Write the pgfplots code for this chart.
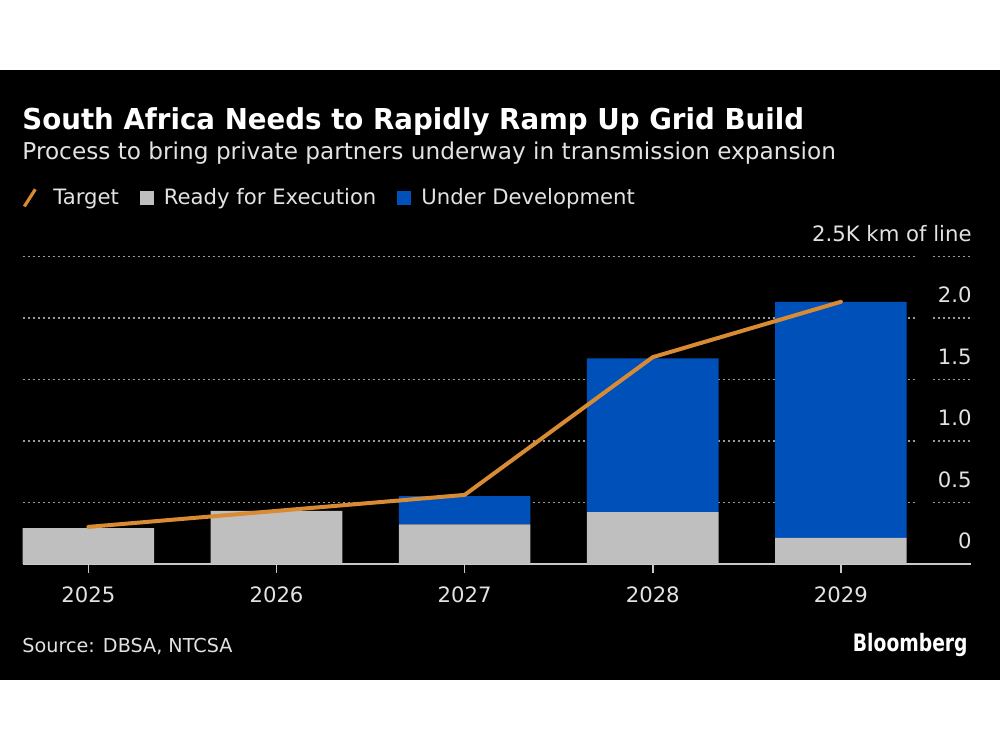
\documentclass[border=0pt]{standalone}
\usepackage{fontspec}
\setmainfont{DejaVu Sans}
\newfontfamily\titlefont{DejaVu Sans}[FakeStretch=0.96]
\newfontfamily\logofont{DejaVu Sans}[FakeStretch=0.78]
\usepackage{pgfplots}
\pgfplotsset{compat=1.18}
\definecolor{bgray}{HTML}{BFBFBF}
\definecolor{bblue}{HTML}{0050B9}
\definecolor{borange}{HTML}{D98B34}
\definecolor{gridc}{HTML}{9A9A9A}
\definecolor{txt}{HTML}{E2E2E2}
\definecolor{axc}{HTML}{C8C8C8}
\begin{document}
\begin{tikzpicture}
\begin{scope}[x=0.5pt,y=-0.5pt]
\fill[white] (0,0) rectangle (1000,750);
\fill[black] (0,69.5) rectangle (1000,680);
\node[anchor=base west, inner sep=0pt, text=white] at (22,130)
  {\titlefont\bfseries\fontsize{14.4}{16}\selectfont South Africa Needs to Rapidly Ramp Up Grid Build};
\node[anchor=base west, inner sep=0pt, text=txt] at (22,160)
  {\fontsize{11.6}{13}\selectfont Process to bring private partners underway in transmission expansion};
\node[anchor=base west, inner sep=0pt, text=txt] at (22,653)
  {\fontsize{9.6}{11}\selectfont Source: DBSA, NTCSA};
\node[anchor=base east, inner sep=0pt, text=white] at (968,652)
  {\logofont\bfseries\fontsize{12}{14}\selectfont Bloomberg};
\end{scope}

\begin{axis}[
  at={(11.35pt,-281.9pt)}, anchor=south west,
  scale only axis, width=474pt, height=153.75pt,
  xmin=-0.349, xmax=4.69, ymin=0, ymax=2.5,
  ybar stacked, bar width=0.7,
  axis y line*=left, y axis line style={draw=none},
  axis x line*=bottom,
  x axis line style={draw=axc, line width=0.9pt},
  xtick={0,1,2,3,4}, xticklabels={2025,2026,2027,2028,2029},
  tick align=outside, major tick length=4.5pt,
  xtick style={draw=axc, line width=0.8pt},
  ytick style={draw=none},
  xticklabel style={anchor=base, inner sep=0pt, yshift=-15.1pt, text=txt, font=\fontsize{10.6}{12}\selectfont},
  ymajorgrids, major grid style={draw=gridc, line width=0.75pt, dash pattern=on 1pt off 1.5pt},
  ytick={0.5,1,1.5,2,2.5},
  yticklabels={},
  legend style={at={(axis description cs:0,1.19)}, anchor=west, draw=none, fill=none,
    inner sep=0pt, outer sep=0pt, text=txt, font=\fontsize{10.6}{12}\selectfont,
    legend columns=-1,
    /tikz/every odd column/.style={column sep=5pt},
    /tikz/every even column/.style={column sep=10.5pt},
    nodes={inner sep=0pt}},
]
\addlegendimage{legend image code/.code={\draw[borange,line width=1.6pt,solid] (0.5pt,-4.3pt)--(6pt,4.3pt); \path[draw=none] (0pt,0pt) -- (10pt,0pt);}}
\addlegendentry{Target}
\addplot[fill=bgray, draw=none, legend image code/.code={\fill[bgray] (0pt,-3.4pt) rectangle (7pt,3.4pt);}]
  coordinates {(0,0.29) (1,0.43) (2,0.32) (3,0.42) (4,0.21)};
\addlegendentry{Ready for Execution}
\addplot[fill=bblue, draw=none, legend image code/.code={\fill[bblue] (0pt,-3.4pt) rectangle (7pt,3.4pt);}]
  coordinates {(0,0) (1,0) (2,0.23) (3,1.25) (4,1.92)};
\addlegendentry{Under Development}
\end{axis}

\begin{scope}[x=0.5pt,y=-0.5pt]
\fill[black] (917,250) rectangle (932.5,558);
\end{scope}

\begin{axis}[
  at={(11.35pt,-281.9pt)}, anchor=south west,
  scale only axis, width=474pt, height=153.75pt,
  xmin=-0.349, xmax=4.69, ymin=0, ymax=2.5,
  axis x line=none, axis y line*=right,
  y axis line style={draw=none},
  ytick={0,0.5,1,1.5,2,2.5},
  yticklabels={0,0.5,1.0,1.5,2.0,2.5K km of line},
  ytick style={draw=none}, major tick length=0pt,
  yticklabel style={anchor=base east, inner sep=0pt, xshift=0.65pt, yshift=7.5pt, text=txt, font=\fontsize{10.6}{12}\selectfont},
  clip=false,
]
\addplot[borange, line width=2pt, line join=round, line cap=round]
  coordinates {(0,0.30) (1,0.43) (2,0.56) (3,1.68) (4,2.13)};
\end{axis}
\end{tikzpicture}
\end{document}
